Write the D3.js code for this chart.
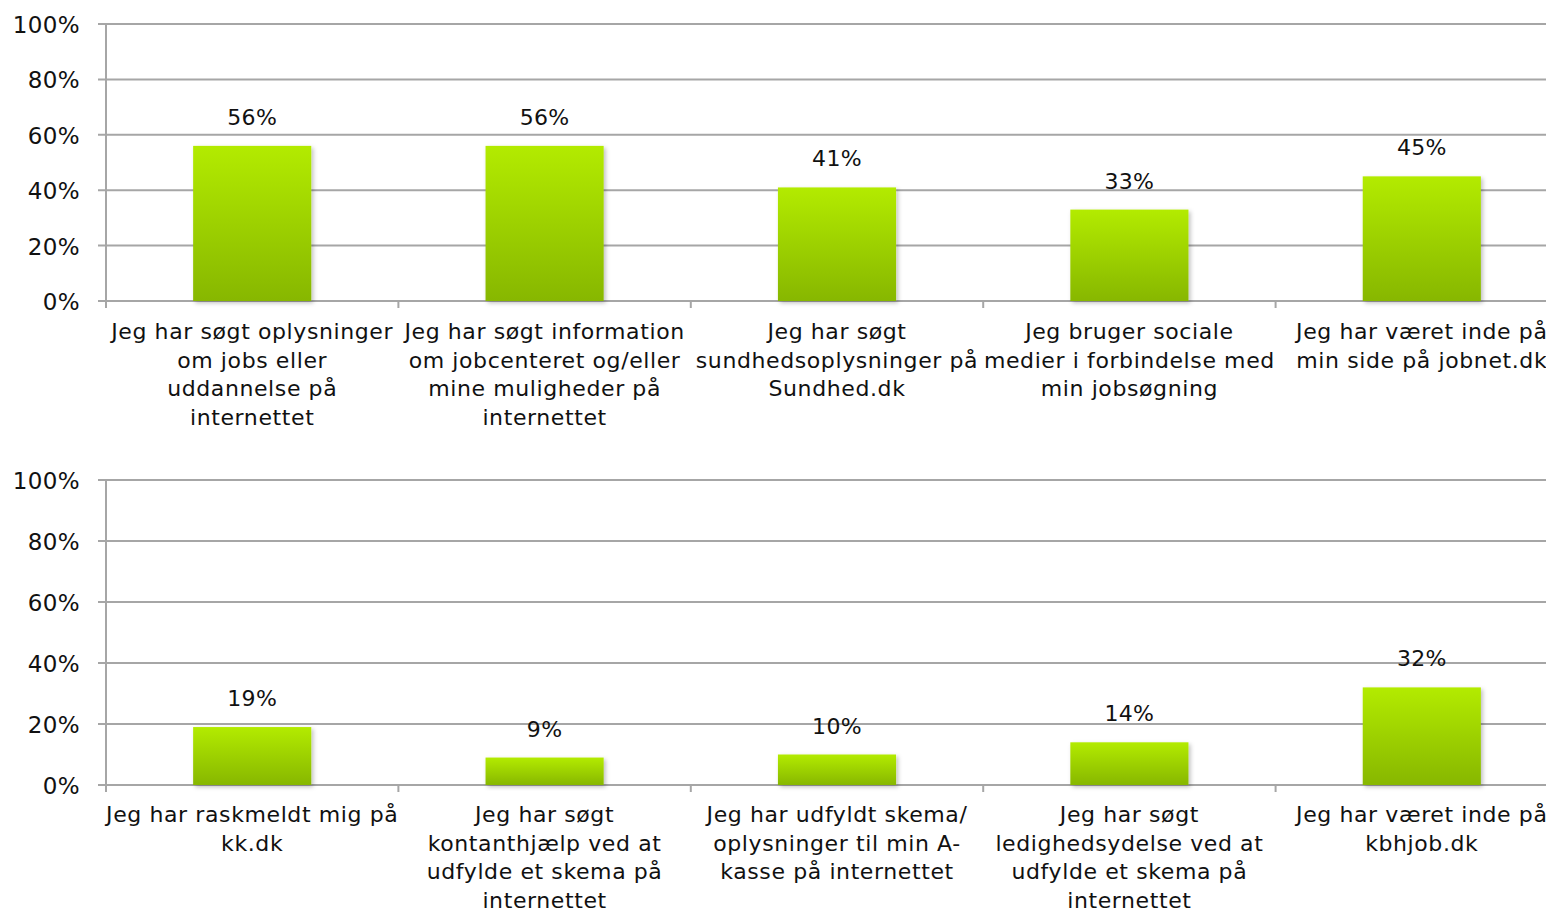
<!DOCTYPE html>
<html>
<head>
<meta charset="utf-8">
<script src="https://cdn.jsdelivr.net/npm/d3@7"></script>
<style>
  body { margin: 0; background: #fff; }
  svg { display: block; }
  text { font-family: "DejaVu Sans", Verdana, sans-serif; fill: #111; }
</style>
</head>
<body>
<svg id="chart" width="1546" height="914"></svg>
<script>
// ------------------------------
// data
// ------------------------------
var topCategories = [
  "Jeg har søgt oplysninger\nom jobs eller\nuddannelse på\ninternettet",
  "Jeg har søgt information\nom jobcenteret og/eller\nmine muligheder på\ninternettet",
  "Jeg har søgt\nsundhedsoplysninger på\nSundhed.dk",
  "Jeg bruger sociale\nmedier i forbindelse med\nmin jobsøgning",
  "Jeg har været inde på\nmin side på jobnet.dk"
];
var topValues = [56, 56, 41, 33, 45];

var bottomCategories = [
  "Jeg har raskmeldt mig på\nkk.dk",
  "Jeg har søgt\nkontanthjælp ved at\nudfylde et skema på\ninternettet",
  "Jeg har udfyldt skema/\noplysninger til min A-\nkasse på internettet",
  "Jeg har søgt\nledighedsydelse ved at\nudfylde et skema på\ninternettet",
  "Jeg har været inde på\nkbhjob.dk"
];
var bottomValues = [19, 9, 10, 14, 32];

var yTicks = [0, 20, 40, 60, 80, 100];

// ------------------------------
// layout
// ------------------------------
var svg = d3.select("#chart");
var defs = svg.append("defs");

var grad = defs.append("linearGradient")
  .attr("id", "barGradient")
  .attr("x1", "0%").attr("y1", "0%")
  .attr("x2", "0%").attr("y2", "100%");
grad.append("stop").attr("offset", "0").attr("stop-color", "#b3eb00");
grad.append("stop").attr("offset", "1").attr("stop-color", "#87b700");

var shadow = defs.append("filter")
  .attr("id", "barShadow")
  .attr("x", "-10%").attr("y", "-10%")
  .attr("width", "130%").attr("height", "130%");
shadow.append("feDropShadow")
  .attr("dx", 2).attr("dy", 2)
  .attr("stdDeviation", 2)
  .attr("flood-color", "#000")
  .attr("flood-opacity", 0.25);

var xLeft = 106, xRight = 1568;

function drawPanel(categories, values, yBottom, yTop, labelY){

  var g = svg.append("g");

  var x = d3.scaleBand()
    .domain(categories)
    .range([xLeft, xRight])
    .paddingInner(0.596)
    .paddingOuter(0.298);

  var y = d3.scaleLinear()
    .domain([0, 100])
    .range([yBottom, yTop]);

  // gridlines + y tick marks
  g.selectAll(".grid")
    .data(yTicks)
    .enter().append("line")
    .attr("x1", xLeft - 8)
    .attr("x2", 1546)
    .attr("y1", function(d){ return y(d); })
    .attr("y2", function(d){ return y(d); })
    .attr("stroke", "#a6a6a6")
    .attr("stroke-width", 2);

  // y axis line
  g.append("line")
    .attr("x1", xLeft).attr("x2", xLeft)
    .attr("y1", y(100)).attr("y2", y(0) + 7)
    .attr("stroke", "#a6a6a6")
    .attr("stroke-width", 2);

  // y tick labels
  g.selectAll(".ylab")
    .data(yTicks)
    .enter().append("text")
    .attr("x", 80)
    .attr("y", function(d){ return y(d) + 9; })
    .attr("text-anchor", "end")
    .style("font-size", "23px")
    .style("letter-spacing", "0.4px")
    .text(function(d){ return d + "%"; });

  // x tick marks at category boundaries
  var step = x.step();
  g.selectAll(".xtick")
    .data(categories)
    .enter().append("line")
    .attr("x1", function(d){ return x(d) + x.bandwidth()/2 + step/2; })
    .attr("x2", function(d){ return x(d) + x.bandwidth()/2 + step/2; })
    .attr("y1", y(0))
    .attr("y2", y(0) + 7)
    .attr("stroke", "#a6a6a6")
    .attr("stroke-width", 2);

  // bars
  g.selectAll(".bar")
    .data(values)
    .enter().append("rect")
    .attr("x", function(d, i){ return x(categories[i]); })
    .attr("y", function(d){ return y(d); })
    .attr("width", x.bandwidth())
    .attr("height", function(d){ return y(0) - y(d); })
    .attr("fill", "url(#barGradient)")
    .attr("filter", "url(#barShadow)");

  // value labels
  g.selectAll(".val")
    .data(values)
    .enter().append("text")
    .attr("x", function(d, i){ return x(categories[i]) + x.bandwidth()/2; })
    .attr("y", function(d){ return y(d) - 21; })
    .attr("text-anchor", "middle")
    .style("font-size", "22px")
    .style("letter-spacing", "0.3px")
    .text(function(d){ return d + "%"; });

  // category labels
  categories.forEach(function(c){
    var t = g.append("text")
      .attr("text-anchor", "middle")
      .style("font-size", "22px")
      .style("letter-spacing", "0.6px");
    c.split("\n").forEach(function(line, j){
      t.append("tspan")
        .attr("x", x(c) + x.bandwidth()/2)
        .attr("y", labelY + j*28.7)
        .text(line);
    });
  });
}

drawPanel(topCategories, topValues, 301, 24, 339);
drawPanel(bottomCategories, bottomValues, 785, 480, 822);
</script>
</body>
</html>
